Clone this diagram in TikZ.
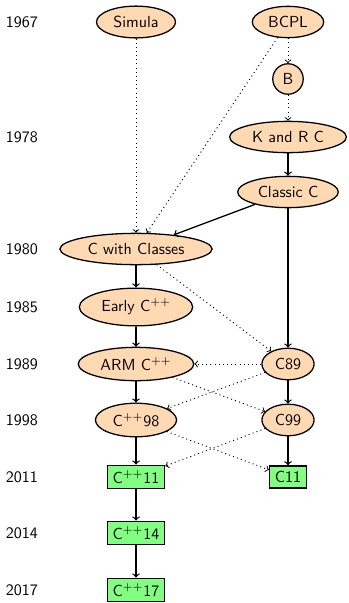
\documentclass[tikz,border=0pt]{standalone}
\usetikzlibrary{shapes.geometric}
\begin{document}
\begin{tikzpicture}[x=0.625pt,y=-0.625pt,font=\sffamily,
  lang/.style={ellipse,draw,thick,fill=orange!30},
  langc/.style={circle,draw,thick,fill=orange!30},
  stdbox/.style={rectangle,draw,thick,fill=green!50},
  yearlbl/.style={},
  evol/.style={->,thick},
  infl/.style={->,semithick,dotted}]
\useasboundingbox (0,0) rectangle (349,603);
% years
\node[yearlbl] (y1967) at (22,22) {1967};
\node[yearlbl] (y1978) at (22,137) {1978};
\node[yearlbl] (y1980) at (22,249) {1980};
\node[yearlbl] (y1985) at (22,307) {1985};
\node[yearlbl] (y1989) at (22,364) {1989};
\node[yearlbl] (y1998) at (22,420) {1998};
\node[yearlbl] (y2011) at (22,477) {2011};
\node[yearlbl] (y2014) at (22,533) {2014};
\node[yearlbl] (y2017) at (22,590) {2017};
% languages
\node[lang] (simula) at (136,22) {Simula};
\node[lang] (bcpl) at (288,22) {BCPL};
\node[langc] (b) at (288,79) {B};
\node[lang] (kr) at (288,137) {K and R C};
\node[lang] (classic) at (288,192) {Classic C};
\node[lang] (cwc) at (136,249) {C with Classes};
\node[lang] (early) at (136,307) {Early C$^{++}$};
\node[lang] (arm) at (136,364) {ARM C$^{++}$};
\node[lang] (c89) at (288,364) {C89};
\node[lang] (cpp98) at (136,420) {C$^{++}$98};
\node[lang] (c99) at (288,420) {C99};
\node[stdbox] (cpp11) at (136,477) {C$^{++}$11};
\node[stdbox] (c11) at (288,477) {C11};
\node[stdbox] (cpp14) at (136,533) {C$^{++}$14};
\node[stdbox] (cpp17) at (136,590) {C$^{++}$17};
% edges
\draw[infl] (simula) -- (cwc);
\draw[infl] (bcpl) -- (b);
\draw[infl] (b) -- (kr);
\draw[infl] (bcpl) -- (cwc);
\draw[evol] (kr) -- (classic);
\draw[evol] (classic) -- (cwc);
\draw[evol] (classic) -- (c89);
\draw[evol] (cwc) -- (early);
\draw[infl] (cwc) -- (c89);
\draw[evol] (early) -- (arm);
\draw[infl] (c89) -- (arm);
\draw[evol] (arm) -- (cpp98);
\draw[infl] (arm) -- (c99);
\draw[infl] (c89) -- (cpp98);
\draw[evol] (c89) -- (c99);
\draw[evol] (cpp98) -- (cpp11);
\draw[infl] (cpp98) -- (c11);
\draw[infl] (c99) -- (cpp11);
\draw[evol] (c99) -- (c11);
\draw[evol] (cpp11) -- (cpp14);
\draw[evol] (cpp14) -- (cpp17);
\end{tikzpicture}
\end{document}
